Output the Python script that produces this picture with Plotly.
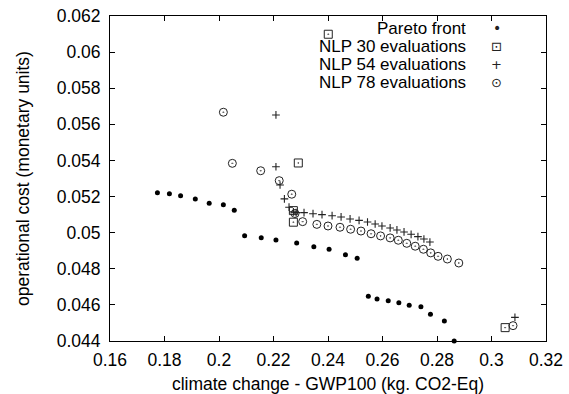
import plotly.graph_objects as go

# Pareto front
pareto_x = [0.1774, 0.1818, 0.1859, 0.1913, 0.1964, 0.2016, 0.2056, 0.2094, 0.2155, 0.2209,
            0.2285, 0.2348, 0.2404, 0.2464, 0.2507, 0.2548, 0.2580, 0.2621, 0.2660, 0.2698,
            0.2741, 0.2776, 0.2827, 0.2863]
pareto_y = [0.05221, 0.05216, 0.05205, 0.05187, 0.05163, 0.05155, 0.05124, 0.04983, 0.04972, 0.04960,
            0.04943, 0.04922, 0.04908, 0.04878, 0.04858, 0.04648, 0.04633, 0.04623, 0.04612, 0.04598,
            0.04590, 0.04548, 0.04511, 0.04400]

# NLP 30 evaluations
nlp30_x = [0.2401, 0.2291, 0.2273, 0.2273, 0.3050]
nlp30_y = [0.06099, 0.05386, 0.05122, 0.05058, 0.04474]

# NLP 54 evaluations
nlp54_x = [0.2209, 0.2209, 0.2224, 0.2240, 0.2257, 0.2273, 0.2283, 0.2312, 0.2345, 0.2378,
           0.2415, 0.2448, 0.2481, 0.2514, 0.2545, 0.2573, 0.2598, 0.2628, 0.2653, 0.2679,
           0.2705, 0.2730, 0.2752, 0.2774, 0.3086]
nlp54_y = [0.05652, 0.05365, 0.05264, 0.05187, 0.05141, 0.05115, 0.05111, 0.05111, 0.05105, 0.05100,
           0.05094, 0.05087, 0.05076, 0.05068, 0.05059, 0.05048, 0.05037, 0.05026, 0.05015, 0.05004,
           0.04991, 0.04978, 0.04965, 0.04948, 0.04531]

# NLP 78 evaluations
nlp78_x = [0.2016, 0.2049, 0.2153, 0.2221, 0.2267, 0.2279, 0.2307, 0.2359, 0.2400, 0.2444,
           0.2483, 0.2521, 0.2558, 0.2593, 0.2628, 0.2658, 0.2689, 0.2720, 0.2750, 0.2777,
           0.2804, 0.2838, 0.2880, 0.3079]
nlp78_y = [0.05667, 0.05384, 0.05343, 0.05288, 0.05213, 0.05106, 0.05061, 0.05046, 0.05037, 0.05030,
           0.05019, 0.05009, 0.04994, 0.04982, 0.04971, 0.04958, 0.04941, 0.04925, 0.04908, 0.04888,
           0.04869, 0.04854, 0.04832, 0.04485]

series_names = ["Pareto front", "NLP 30 evaluations", "NLP 54 evaluations", "NLP 78 evaluations"]
legend_glyphs = ["•", "⊡", "+", "⊙"]

x_ticks = [0.16, 0.18, 0.20, 0.22, 0.24, 0.26, 0.28, 0.30, 0.32]
x_ticklabels = ["0.16", "0.18", "0.2", "0.22", "0.24", "0.26", "0.28", "0.3", "0.32"]
y_ticks = [0.044, 0.046, 0.048, 0.050, 0.052, 0.054, 0.056, 0.058, 0.060, 0.062]
y_ticklabels = ["0.044", "0.046", "0.048", "0.05", "0.052", "0.054", "0.056", "0.058", "0.06", "0.062"]

FONT = "Liberation Sans, Arial, sans-serif"
FS = 17.5
INK = "#222222"

fig = go.Figure()
fig.add_trace(go.Scatter(x=pareto_x, y=pareto_y, mode="markers", name=series_names[0],
                         cliponaxis=False,
                         marker=dict(symbol="circle", size=5, color="black")))
fig.add_trace(go.Scatter(x=nlp30_x, y=nlp30_y, mode="markers", name=series_names[1],
                         cliponaxis=False,
                         marker=dict(symbol="square-open-dot", size=8, color=INK,
                                     line=dict(width=1, color=INK))))
fig.add_trace(go.Scatter(x=nlp54_x, y=nlp54_y, mode="markers", name=series_names[2],
                         cliponaxis=False,
                         marker=dict(symbol="cross-thin-open", size=5.5, color=INK,
                                     line=dict(width=1.1, color=INK))))
fig.add_trace(go.Scatter(x=nlp78_x, y=nlp78_y, mode="markers", name=series_names[3],
                         cliponaxis=False,
                         marker=dict(symbol="circle-open-dot", size=8, color=INK,
                                     line=dict(width=1, color=INK))))

axis_common = dict(showgrid=False, zeroline=False, showline=True, linecolor="black", linewidth=1,
                   mirror="ticks", ticks="inside", ticklen=5, tickcolor="black", tickwidth=1,
                   automargin=False, ticklabeloverflow="allow",
                   tickfont=dict(family=FONT, size=FS, color="black"))

fig.update_xaxes(range=[0.16, 0.32], tickvals=x_ticks, ticktext=x_ticklabels,
                 ticklabelstandoff=3,
                 title=dict(text="climate change - GWP100 (kg. CO2-Eq)",
                            font=dict(family=FONT, size=FS, color="black"), standoff=10),
                 **axis_common)
fig.update_yaxes(range=[0.044, 0.062], tickvals=y_ticks, ticktext=y_ticklabels,
                 ticklabelstandoff=5,
                 title=dict(text="operational cost (monetary units)",
                            font=dict(family=FONT, size=FS, color="black"), standoff=22),
                 **axis_common)

# gnuplot-style key: text right-justified, sample symbol to its right
row_y = [0.962, 0.907, 0.852, 0.797]
for name, glyph, yy in zip(series_names, legend_glyphs, row_y):
    fig.add_annotation(xref="paper", yref="paper", x=0.819, y=yy, text=name, showarrow=False,
                       xanchor="right", yanchor="middle", height=18, borderpad=0,
                       font=dict(family=FONT, size=17, color="black"))
    fig.add_annotation(xref="paper", yref="paper", x=0.8876, y=yy, text=glyph, showarrow=False,
                       xanchor="center", yanchor="middle", height=16, borderpad=0,
                       font=dict(family="DejaVu Sans", size=13 if glyph != "•" else 14, color=INK))

fig.update_layout(
    template="none",
    width=569, height=394,
    margin=dict(l=110, r=23, t=16, b=53, autoexpand=False),
    paper_bgcolor="white", plot_bgcolor="white",
    font=dict(family=FONT, size=FS, color="black"),
    showlegend=False,
)

# remove the browser's default 8px body margin so the figure fills the window exactly
fig.write_html("out.html", config={"displayModeBar": False},
               post_script="document.body.style.margin='0';")
